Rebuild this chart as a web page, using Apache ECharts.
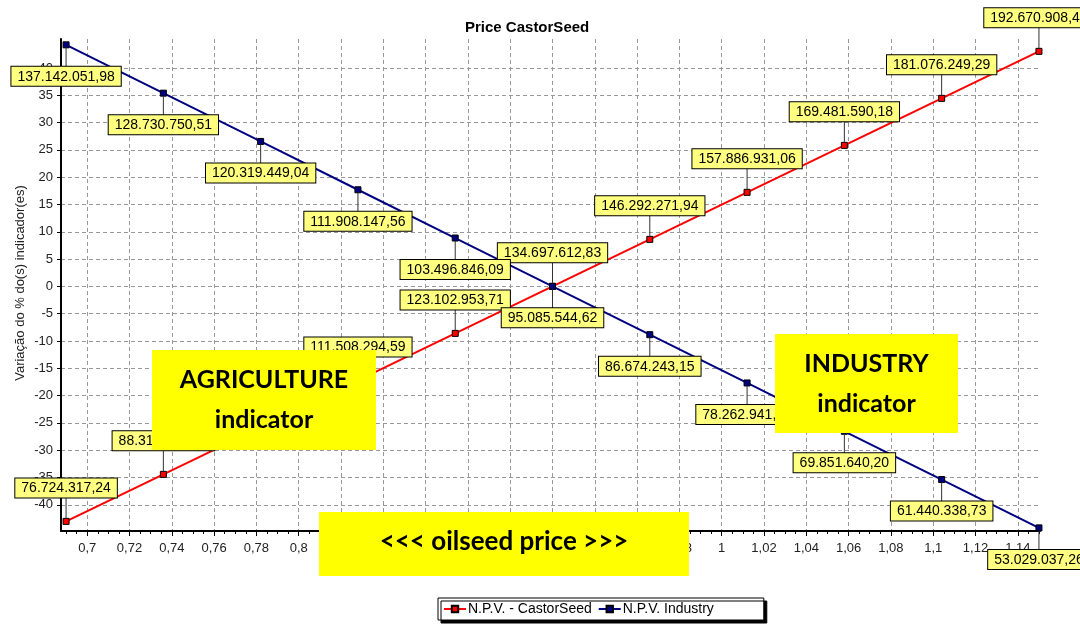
<!DOCTYPE html>
<html>
<head>
<meta charset="utf-8">
<script src="https://cdn.jsdelivr.net/npm/echarts@6/dist/echarts.min.js"></script>
<style>
  html, body { margin: 0; padding: 0; background: #fff; }
  #chart { width: 1080px; height: 624px; }
</style>
</head>
<body>
<div id="chart"></div>
<script>
// price points (x) and % variation of each indicator (y)
const priceX = [0.69, 0.736, 0.782, 0.828, 0.874, 0.92, 0.966, 1.012, 1.058, 1.104, 1.15];
const castorPct = [-43.04, -34.43, -25.82, -17.22, -8.61, 0, 8.61, 17.22, 25.82, 34.43, 43.04];
const industryPct = [44.23, 35.38, 26.54, 17.69, 8.85, 0, -8.85, -17.69, -26.54, -35.38, -44.23];

// N.P.V. labels shown next to each point
const castorNpv = ['76.724.317,24', '88.318.976,36', '99.913.635,47', '111.508.294,59', '123.102.953,71',
  '134.697.612,83', '146.292.271,94', '157.886.931,06', '169.481.590,18', '181.076.249,29', '192.670.908,41'];
const industryNpv = ['137.142.051,98', '128.730.750,51', '120.319.449,04', '111.908.147,56', '103.496.846,09',
  '95.085.544,62', '86.674.243,15', '78.262.941,62', '69.851.640,20', '61.440.338,73', '53.029.037,26'];

const xTicks = [0.7, 0.72, 0.74, 0.76, 0.78, 0.8, 0.82, 0.84, 0.86, 0.88, 0.9, 0.92, 0.94, 0.96, 0.98,
  1, 1.02, 1.04, 1.06, 1.08, 1.1, 1.12, 1.14];
const yTicks = [-40, -35, -30, -25, -20, -15, -10, -5, 0, 5, 10, 15, 20, 25, 30, 35, 40];

const FONT = '"Liberation Sans", Arial, sans-serif';

// small ticks every 0.005 under the x axis
const xMinorTicks = [];
for (let i = 138; i <= 230; i++) xMinorTicks.push(+(i * 0.005).toFixed(3));

function fmtTick(v) {
  return String(+(+v).toFixed(2)).replace('.', ',');
}

function labelSeries(name, ys, texts, below) {
  return {
    name: name,
    type: 'custom',
    silent: true,
    clip: false,
    z: 5,
    data: priceX.map((x, i) => [x, ys[i]]),
    renderItem(params, api) {
      const p = api.coord([api.value(0), api.value(1)]);
      const ty = below ? p[1] + 22 : p[1] - 24;
      return {
        type: 'group',
        children: [
          {
            type: 'line',
            shape: { x1: p[0], y1: p[1] + (below ? 3 : -3), x2: p[0], y2: ty },
            style: { stroke: '#333', lineWidth: 1 },
          },
          {
            type: 'text',
            x: p[0],
            y: ty,
            style: {
              text: texts[params.dataIndex],
              fill: '#000',
              font: '14px ' + FONT,
              align: 'center',
              verticalAlign: below ? 'top' : 'bottom',
              backgroundColor: '#ffff80',
              borderColor: '#000',
              borderWidth: 1,
              padding: [3, 6, 2, 6],
            },
          },
        ],
      };
    },
  };
}

// yellow annotation boxes laid over the chart
function yellowNote(x, y, w, h, lines, size) {
  const children = [
    { type: 'rect', z: 100, shape: { x: 0, y: 0, width: w, height: h }, style: { fill: '#ffff00' } },
  ];
  lines.forEach(([text, cy]) => {
    children.push({
      type: 'text',
      z: 101,
      x: w / 2,
      y: cy,
      style: { text: text, fill: '#000', font: 'bold ' + (size || 25) + 'px Lato, "Open Sans", sans-serif', align: 'center', verticalAlign: 'middle' },
    });
  });
  return { type: 'group', x: x, y: y, z: 100, children: children };
}

const chart = echarts.init(document.getElementById('chart'));
chart.setOption({
  animation: false,
  backgroundColor: '#fff',
  title: {
    text: 'Price CastorSeed',
    left: 460,
    top: 15,
    textStyle: { fontSize: 15, fontWeight: 'bold', color: '#000', fontFamily: FONT },
  },
  legend: {
    data: ['N.P.V. - CastorSeed', 'N.P.V. Industry'],
    left: 438,
    top: 598,
    backgroundColor: '#fff',
    borderColor: '#000',
    borderWidth: 1,
    shadowColor: '#000',
    shadowOffsetX: 3,
    shadowOffsetY: 3,
    shadowBlur: 0,
    padding: [4, 50, 4, 5],
    itemGap: 6,
    itemWidth: 22,
    itemHeight: 8,
    textStyle: { fontSize: 14, color: '#000', fontFamily: FONT, padding: [0, 0, 0, -3] },
  },
  grid: { left: 61, right: 40, top: 39, bottom: 93, outerBoundsMode: 'none' },
  xAxis: [
    {
      type: 'value',
      min: 0.6876,
      max: 1.1505,
      axisLine: { show: true, onZero: false, lineStyle: { color: '#000', width: 2 } },
      axisTick: { show: true, length: 5, customValues: xTicks, lineStyle: { color: '#000' } },
      axisLabel: {
        customValues: xTicks,
        margin: 11,
        color: '#222',
        fontSize: 13,
        fontFamily: FONT,
        formatter: fmtTick,
      },
      splitLine: { show: true, lineStyle: { color: '#999', width: 1, type: [4, 3] } },
    },
    {
      type: 'value',
      position: 'bottom',
      min: 0.6876,
      max: 1.1505,
      axisLine: { show: false, onZero: false },
      axisTick: { show: true, length: 3, customValues: xMinorTicks, lineStyle: { color: '#000' } },
      axisLabel: { show: false },
      splitLine: { show: false },
    },
  ],
  yAxis: {
    type: 'value',
    min: -44.8,
    max: 45.3,
    axisLine: { show: true, onZero: false, lineStyle: { color: '#000', width: 2 } },
    axisTick: { show: true, length: 4, customValues: yTicks, lineStyle: { color: '#000' } },
    axisLabel: { customValues: yTicks, margin: 8, color: '#222', fontSize: 13, fontFamily: FONT },
    splitLine: { show: true, lineStyle: { color: '#999', width: 1, type: [4, 3] } },
  },
  graphic: [
    {
      type: 'text',
      x: 20,
      y: 283,
      rotation: Math.PI / 2,
      z: 10,
      style: { text: 'Variação do % do(s) indicador(es)', fill: '#222', font: '13px ' + FONT, align: 'center', verticalAlign: 'middle' },
    },
    yellowNote(152, 350, 224, 100, [['AGRICULTURE', 30], ['indicator', 70]]),
    yellowNote(775, 334, 183, 99, [['INDUSTRY', 30], ['indicator', 70]]),
    yellowNote(319, 512, 370, 64, [['<<< oilseed price >>>', 30]], 26),
  ],
  series: [
    {
      name: 'N.P.V. - CastorSeed',
      type: 'line',
      data: priceX.map((x, i) => [x, castorPct[i]]),
      symbol: 'rect',
      symbolSize: 6,
      showAllSymbol: true,
      z: 3,
      lineStyle: { color: '#ff0000', width: 2 },
      itemStyle: { color: '#ff0000', borderColor: '#000', borderWidth: 1 },
    },
    {
      name: 'N.P.V. Industry',
      type: 'line',
      data: priceX.map((x, i) => [x, industryPct[i]]),
      symbol: 'rect',
      symbolSize: 6,
      showAllSymbol: true,
      z: 3,
      lineStyle: { color: '#000080', width: 2 },
      itemStyle: { color: '#000080', borderColor: '#000', borderWidth: 1 },
    },
    labelSeries('castorLabels', castorPct, castorNpv, false),
    labelSeries('industryLabels', industryPct, industryNpv, true),
  ],
});
</script>
</body>
</html>
